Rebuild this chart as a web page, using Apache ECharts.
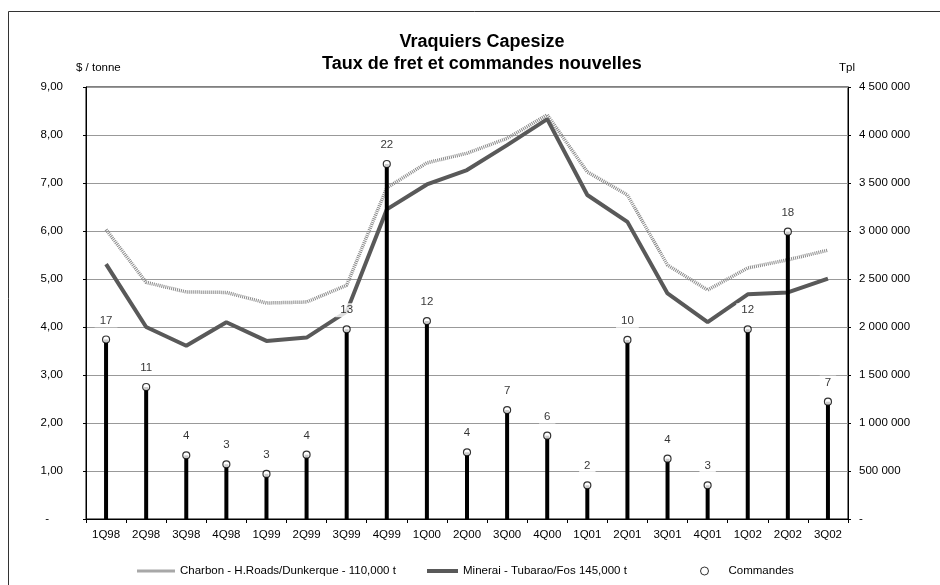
<!DOCTYPE html>
<html>
<head>
<meta charset="utf-8">
<script src="https://cdn.jsdelivr.net/npm/echarts@6/dist/echarts.min.js"></script>
<style>
  html, body { margin: 0; padding: 0; background: #fff; }
  #chart { width: 940px; height: 585px; }
</style>
</head>
<body>
<div id="chart"></div>
<script>
// Quarterly categories
const quarters = ['1Q98','2Q98','3Q98','4Q98','1Q99','2Q99','3Q99','4Q99','1Q00','2Q00',
                  '3Q00','4Q00','1Q01','2Q01','3Q01','4Q01','1Q02','2Q02','3Q02'];

// Freight rates, $ / tonne
const charbon = [6.03, 4.93, 4.73, 4.72, 4.50, 4.52, 4.87, 6.90, 7.42, 7.62,
                 7.93, 8.42, 7.23, 6.75, 5.29, 4.77, 5.23, 5.40, 5.60];
const minerai = [5.31, 4.00, 3.61, 4.10, 3.71, 3.78, 4.32, 6.45, 6.97, 7.27,
                 7.79, 8.33, 6.75, 6.19, 4.70, 4.10, 4.68, 4.72, 5.01];

// New orders: deadweight tonnage (Tpl) and number of ships
const tonnage = [1870000, 1375000, 663000, 570000, 470000, 670000, 1976000, 3698000, 2062000, 695000,
                 1135000, 868000, 351000, 1865000, 628000, 351000, 1976000, 2993000, 1222000];
const orders  = [17, 11, 4, 3, 3, 4, 13, 22, 12, 4, 7, 6, 2, 10, 4, 3, 12, 18, 7];

const seriesNames = ['Charbon - H.Roads/Dunkerque - 110,000 t', 'Minerai - Tubarao/Fos 145,000 t', 'Commandes'];

const FONT = 'Liberation Sans, Arial, sans-serif';
const FS = 11.5;

const chart = echarts.init(document.getElementById('chart'), null, { renderer: 'canvas' });

const fmtLeft = v => v === 0 ? '{d|-}' : v.toFixed(2).replace('.', ',');
const fmtRight = v => v === 0 ? '-' : String(v).replace(/\B(?=(\d{3})+(?!\d))/g, ' ');

const legendText = { fontFamily: FONT, fontSize: FS, color: '#000' };

chart.setOption({
  animation: false,
  backgroundColor: '#fff',
  textStyle: { fontFamily: FONT },
  title: {
    text: 'Vraquiers Capesize\nTaux de fret et commandes nouvelles',
    left: 477,
    top: 26,
    textAlign: 'center',
    textStyle: { fontFamily: FONT, fontSize: 18, fontWeight: 'bold', color: '#000', lineHeight: 22 }
  },
  graphic: [
    { type: 'rect', silent: true, z: -1,
      shape: { x: 8.5, y: 11.5, width: 960, height: 620 },
      style: { fill: null, stroke: '#333', lineWidth: 1 } },
    { type: 'text', left: 76, top: 62,
      style: { text: '$ / tonne', font: FS + 'px ' + FONT, fill: '#000' } },
    { type: 'text', left: 839, top: 62,
      style: { text: 'Tpl', font: FS + 'px ' + FONT, fill: '#000' } }
  ],
  legend: [
    { data: [{ name: seriesNames[0], icon: 'rect', itemStyle: { color: '#a8a8a8' } }],
      left: 132, top: 560, itemWidth: 38, itemHeight: 3, itemGap: 0, textStyle: legendText },
    { data: [{ name: seriesNames[1], icon: 'rect' }],
      left: 422, top: 560, itemWidth: 31, itemHeight: 4, itemGap: 0, textStyle: legendText },
    { data: [seriesNames[2]], left: 695, top: 560, itemWidth: 8, itemHeight: 8, itemGap: 0,
      itemStyle: { borderWidth: 1 },
      textStyle: Object.assign({ padding: [0, 0, 0, 15] }, legendText) }
  ],
  grid: {
    left: 86, right: 92, top: 87, bottom: 66,
    show: true, borderColor: '#000', borderWidth: 1, backgroundColor: 'transparent'
  },
  xAxis: {
    type: 'category',
    data: quarters,
    boundaryGap: true,
    axisLine: { lineStyle: { color: '#000', width: 1 } },
    axisTick: { show: true, length: 4, lineStyle: { color: '#000' } },
    axisLabel: { color: '#000', fontFamily: FONT, fontSize: FS, margin: 10, interval: 0 }
  },
  yAxis: [
    {
      type: 'value', min: 0, max: 9, interval: 1,
      axisLine: { show: true, lineStyle: { color: '#000' } },
      axisTick: { show: true, length: 3, lineStyle: { color: '#000' } },
      splitLine: { show: true, lineStyle: { color: '#999', width: 1 } },
      axisLabel: {
        color: '#000', fontFamily: FONT, fontSize: FS, margin: 23,
        formatter: fmtLeft,
        rich: { d: { fontFamily: FONT, fontSize: FS, color: '#000', padding: [0, 14, 0, 0] } }
      }
    },
    {
      type: 'value', min: 0, max: 4500000, interval: 500000, position: 'right',
      axisLine: { show: true, lineStyle: { color: '#000' } },
      axisTick: { show: true, length: 3, lineStyle: { color: '#000' } },
      splitLine: { show: false },
      axisLabel: { color: '#000', fontFamily: FONT, fontSize: FS, margin: 11, formatter: fmtRight }
    }
  ],
  series: [
    {
      name: seriesNames[0], type: 'line', yAxisIndex: 0, data: charbon,
      showSymbol: false, symbol: 'none', z: 2,
      lineStyle: { color: '#8a8a8a', width: 3.5, type: [1, 1] },
      itemStyle: { color: '#8a8a8a' }
    },
    {
      name: seriesNames[1], type: 'line', yAxisIndex: 0, data: minerai,
      showSymbol: false, symbol: 'none', z: 3,
      lineStyle: { color: '#595959', width: 4 },
      itemStyle: { color: '#595959' }
    },
    {
      name: 'Tpl', type: 'bar', yAxisIndex: 1, data: tonnage,
      barWidth: 4, z: 4,
      itemStyle: { color: '#000' }
    },
    {
      name: seriesNames[2], type: 'scatter', yAxisIndex: 1, data: tonnage,
      symbol: 'circle', symbolSize: 7, z: 5,
      itemStyle: { color: '#fff', borderColor: '#000', borderWidth: 1.2 },
      label: {
        show: true, position: 'top', distance: 8,
        formatter: p => String(orders[p.dataIndex]),
        fontFamily: FONT, fontSize: FS, color: '#000',
        backgroundColor: '#fff', padding: [1, 5]
      }
    }
  ]
});
</script>
</body>
</html>
